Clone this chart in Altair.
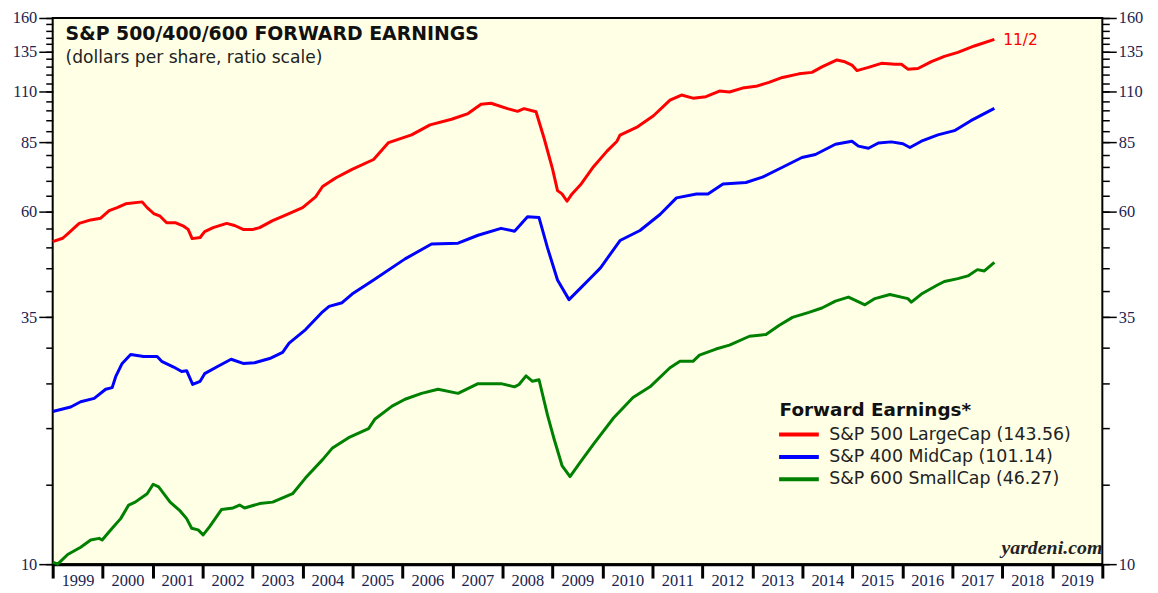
import altair as alt
import pandas as pd

# ---------------- data (decimal year, dollars per share) ----------------
sp500_t = [1999.0, 1999.2, 1999.3, 1999.53, 1999.76, 1999.96, 2000.13, 2000.29, 2000.46, 2000.79,
           2000.89, 2001.02, 2001.15, 2001.28, 2001.45, 2001.62, 2001.71, 2001.79, 2001.95, 2002.04,
           2002.21, 2002.48, 2002.64, 2002.81, 2003.01, 2003.14, 2003.40, 2003.67, 2004.00, 2004.26,
           2004.40, 2004.66, 2004.99, 2005.42, 2005.72, 2006.18, 2006.55, 2006.98, 2007.31, 2007.57,
           2007.77, 2008.10, 2008.30, 2008.43, 2008.67, 2008.83, 2009.00, 2009.10, 2009.19, 2009.29,
           2009.39, 2009.56, 2009.82, 2010.09, 2010.29, 2010.35, 2010.68, 2011.02, 2011.35, 2011.58,
           2011.81, 2012.07, 2012.34, 2012.54, 2012.80, 2013.07, 2013.33, 2013.60, 2013.93, 2014.19,
           2014.39, 2014.69, 2014.85, 2014.99, 2015.09, 2015.32, 2015.58, 2015.85, 2015.98, 2016.11,
           2016.31, 2016.58, 2016.84, 2017.11, 2017.44, 2017.84]
sp500_v = [51.4, 52.3, 53.5, 56.4, 57.4, 57.9, 60.2, 61.1, 62.3, 62.9,
           61.1, 59.3, 58.5, 56.6, 56.6, 55.6, 54.7, 52.2, 52.5, 54.1,
           55.2, 56.4, 55.8, 54.7, 54.7, 55.2, 57.2, 58.9, 61.1, 64.5,
           68.0, 71.0, 74.2, 78.0, 85.0, 88.4, 93.0, 95.7, 98.5, 103.3,
           103.8, 101.0, 99.6, 101.0, 99.4, 87.0, 74.4, 66.6, 65.5, 63.1,
           65.5, 68.6, 75.2, 81.4, 85.6, 88.3, 91.8, 97.4, 105.4, 108.2,
           106.5, 107.3, 110.4, 109.9, 112.1, 113.1, 115.4, 118.3, 120.5, 121.4,
           124.8, 129.3, 128.1, 126.0, 122.5, 124.5, 127.1, 126.5, 126.5, 123.4,
           123.8, 128.2, 131.7, 134.4, 138.8, 143.56]

sp400_t = [1999.0, 1999.36, 1999.56, 1999.83, 2000.06, 2000.19, 2000.26, 2000.39, 2000.56, 2000.82,
           2001.09, 2001.18, 2001.42, 2001.58, 2001.68, 2001.80, 2001.95, 2002.04, 2002.28, 2002.57,
           2002.81, 2003.04, 2003.34, 2003.60, 2003.73, 2004.06, 2004.40, 2004.53, 2004.79, 2004.99,
           2005.42, 2006.05, 2006.58, 2007.11, 2007.51, 2007.97, 2008.24, 2008.50, 2008.73, 2008.90,
           2009.10, 2009.33, 2009.56, 2009.82, 2009.96, 2010.35, 2010.75, 2011.15, 2011.48, 2011.88,
           2012.11, 2012.41, 2012.87, 2013.20, 2013.60, 2013.99, 2014.26, 2014.66, 2014.99, 2015.12,
           2015.32, 2015.52, 2015.78, 2016.01, 2016.15, 2016.38, 2016.71, 2017.04, 2017.37, 2017.84]
sp400_v = [21.7, 22.2, 22.8, 23.2, 24.3, 24.5, 25.9, 27.7, 29.0, 28.7,
           28.7, 28.0, 27.2, 26.6, 26.7, 24.9, 25.3, 26.3, 27.2, 28.3,
           27.7, 27.8, 28.4, 29.3, 30.7, 32.9, 36.0, 37.0, 37.7, 39.4,
           42.3, 47.1, 50.8, 51.0, 53.1, 55.0, 54.2, 58.3, 58.1, 49.8,
           42.3, 38.3, 40.6, 43.4, 45.0, 51.7, 54.4, 59.0, 64.2, 65.5,
           65.5, 68.9, 69.4, 71.3, 75.0, 78.8, 80.0, 84.3, 85.6, 83.5,
           82.6, 84.8, 85.3, 84.5, 82.9, 85.6, 88.4, 90.3, 95.0, 101.14]

sp600_t = [1999.0, 1999.10, 1999.30, 1999.56, 1999.76, 1999.93, 1999.99, 2000.19, 2000.36, 2000.52,
           2000.65, 2000.89, 2001.01, 2001.12, 2001.35, 2001.55, 2001.68, 2001.78, 2001.91, 2002.01,
           2002.14, 2002.38, 2002.61, 2002.74, 2002.84, 2003.14, 2003.40, 2003.80, 2004.06, 2004.40,
           2004.59, 2004.92, 2005.32, 2005.45, 2005.79, 2006.05, 2006.38, 2006.71, 2007.11, 2007.51,
           2007.97, 2008.24, 2008.33, 2008.47, 2008.60, 2008.73, 2008.90, 2009.03, 2009.19, 2009.35,
           2009.56, 2009.82, 2010.22, 2010.61, 2010.95, 2011.35, 2011.55, 2011.81, 2011.94, 2012.27,
           2012.54, 2012.94, 2013.27, 2013.53, 2013.80, 2014.13, 2014.39, 2014.66, 2014.92, 2015.05,
           2015.25, 2015.45, 2015.75, 2016.11, 2016.18, 2016.38, 2016.71, 2016.84, 2017.11, 2017.31,
           2017.50, 2017.64, 2017.84]
sp600_v = [10.1, 10.0, 10.5, 10.9, 11.3, 11.4, 11.3, 12.0, 12.6, 13.5,
           13.7, 14.3, 15.0, 14.8, 13.7, 13.1, 12.6, 12.0, 11.9, 11.6,
           12.1, 13.2, 13.3, 13.5, 13.3, 13.6, 13.7, 14.3, 15.5, 17.0,
           18.0, 19.0, 19.9, 20.9, 22.3, 23.1, 23.8, 24.3, 23.8, 25.0,
           25.0, 24.6, 24.9, 26.0, 25.3, 25.5, 21.3, 18.9, 16.5, 15.6,
           16.8, 18.4, 21.0, 23.3, 24.6, 27.1, 28.0, 28.0, 28.9, 29.8,
           30.4, 31.8, 32.1, 33.6, 35.0, 35.9, 36.7, 38.0, 38.8, 38.2,
           37.3, 38.5, 39.3, 38.5, 37.8, 39.4, 41.3, 42.0, 42.6, 43.2,
           44.6, 44.3, 46.27]

series_names = ["S&P 500 LargeCap (143.56)", "S&P 400 MidCap (101.14)", "S&P 600 SmallCap (46.27)"]
series_colors = ["#FF0000", "#0000FF", "#008000"]

year_ticks = list(range(1999, 2021))
major_ticks = [10, 35, 60, 85, 110, 135, 160]
minor_ticks = list(range(10, 161, 5))

end_label = "11/2"
title_text = "S&P 500/400/600 FORWARD EARNINGS"
subtitle_text = "(dollars per share, ratio scale)"
source_text = "yardeni.com"

# ---------------- build table ----------------
rows = []
for name, ts, vs in zip(series_names, [sp500_t, sp400_t, sp600_t], [sp500_v, sp400_v, sp600_v]):
    for t, v in zip(ts, vs):
        rows.append({"t": t, "v": v, "s": name})
df = pd.DataFrame(rows)
last_df = pd.DataFrame([{"t": sp500_t[-1], "v": sp500_v[-1], "lab": end_label}])
one = pd.DataFrame([{"a": 1}])

W, H = 1057, 550
SERIF = "Liberation Serif"
SANS = "DejaVu Sans"
LABEL_COLOR = "#1b2450"

x_axis = alt.Axis(values=year_ticks, title=None, grid=False,
                  labelExpr="datum.value >= 2020 ? '' : format(datum.value, 'd')",
                  labelOffset=25, labelFlush=False, labelOverlap=False,
                  tickSize=14, tickWidth=3, tickColor="black",
                  labelPadding=-5, labelFont=SERIF, labelFontSize=16.5, labelColor=LABEL_COLOR,
                  domain=True, domainColor="black", domainWidth=3)
x_enc = alt.X("t:Q", scale=alt.Scale(domain=[1999, 2020], nice=False, zero=False), axis=x_axis)


def y_scale():
    return alt.Scale(type="log", domain=[10, 160], nice=False, zero=False)


def y_axis(orient, vals, size, labels):
    return alt.Axis(orient=orient, values=vals, tickSize=size, labels=labels, title=None,
                    grid=False, domain=False, tickColor="black", tickWidth=1.5,
                    labelFont=SERIF, labelFontSize=16.5, labelColor=LABEL_COLOR,
                    labelPadding=2, labelOverlap=False, labelFlush=False, format="d")


base = alt.Chart(df)

lines = base.mark_line(strokeWidth=3, strokeJoin="round").encode(
    x=x_enc,
    y=alt.Y("v:Q", scale=y_scale(), axis=y_axis("left", major_ticks, 14, True)),
    color=alt.Color("s:N", sort=series_names,
                    scale=alt.Scale(domain=series_names, range=series_colors),
                    legend=alt.Legend(orient="none", legendX=732, legendY=386,
                                      title="Forward Earnings*", titleFont=SANS, titleFontSize=18.5,
                                      titleFontWeight="bold", titleColor="#111111", titlePadding=3,
                                      titleLimit=500,
                                      labelFont=SANS, labelFontSize=17.5, labelColor="#222222",
                                      labelLimit=500,
                                      symbolType="M-1.25,0H2.75", symbolStrokeWidth=4, symbolSize=400,
                                      symbolFillColor="transparent",
                                      labelOffset=26, rowPadding=1.5, padding=0)),
    order=alt.Order("t:Q"),
)


def ghost(orient, vals, size, labels):
    return base.mark_line(opacity=0).encode(
        x=x_enc,
        y=alt.Y("v:Q", scale=y_scale(), axis=y_axis(orient, vals, size, labels)),
        detail="s:N",
    )


left_minor = ghost("left", minor_ticks, 7, False)
right_major = ghost("right", major_ticks, 14, True)
right_minor = ghost("right", minor_ticks, 7, False)

end_text = alt.Chart(last_df).mark_text(align="left", baseline="middle", dx=9, dy=1,
                                        font=SANS, fontSize=15.5, color="#FF0000").encode(
    x=x_enc,
    y=alt.Y("v:Q", scale=y_scale(), axis=None),
    text="lab:N",
)

title = alt.Chart(one).mark_text(align="left", baseline="alphabetic", font=SANS, fontSize=19,
                                 fontWeight="bold", color="#111111").encode(
    x=alt.value(13), y=alt.value(22), text=alt.value(title_text))
subtitle = alt.Chart(one).mark_text(align="left", baseline="alphabetic", font=SANS, fontSize=17.2,
                                    color="#222222").encode(
    x=alt.value(13), y=alt.value(45), text=alt.value(subtitle_text))
source = alt.Chart(one).mark_text(align="right", baseline="alphabetic", font=SERIF, fontSize=20,
                                  fontWeight="bold", fontStyle="italic", color="#222222").encode(
    x=alt.value(1057), y=alt.value(540), text=alt.value(source_text))

chart = alt.layer(lines, left_minor, right_major, right_minor, end_text, title, subtitle, source).resolve_scale(
    y="independent"
).properties(
    width=W, height=H,
    padding={"left": 45, "top": 8, "right": 48, "bottom": 27},
    autosize=alt.AutoSizeParams(type="none"),
    background="white",
).configure_view(
    fill="#FFFFE6", stroke="black", strokeWidth=2
)

chart.save("out.html", embed_options={"renderer": "svg", "actions": False})
